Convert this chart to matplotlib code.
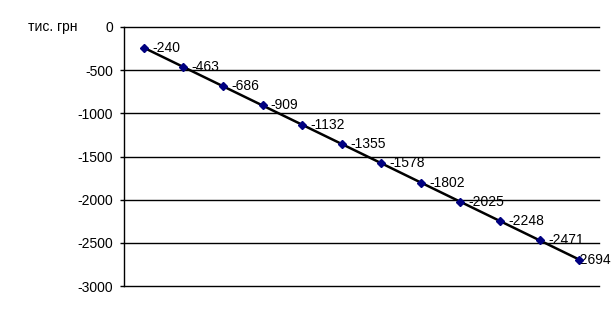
import matplotlib
matplotlib.use("Agg")
import matplotlib.pyplot as plt

plt.rcParams['font.family'] = ['Liberation Sans', 'DejaVu Sans']

categories = list(range(1, 13))
values = [-240, -463, -686, -909, -1132, -1355, -1578, -1802, -2025, -2248, -2471, -2694]
yticks = [0, -500, -1000, -1500, -2000, -2500, -3000]
ylabel = "тис. грн"

fig = plt.figure(figsize=(6.16, 3.13), dpi=100)
ax = fig.add_axes([124/616, 1-286/313, 475/616, 259/313])

ax.plot(categories, values, color='black', lw=1.8, zorder=3)
ax.plot(categories, values, ls='none', marker='D', ms=4.5, color='#000080', zorder=5)

for i, (x, v) in enumerate(zip(categories, values)):
    if i == len(values) - 1:
        ax.annotate(f"{v}", (x, v), xytext=(-2.8, 0), textcoords='offset points',
                    ha='left', va='center', fontsize=10, zorder=4)
    else:
        ax.annotate(f"{v}", (x, v), xytext=(6, 0), textcoords='offset points',
                    ha='left', va='center', fontsize=10, zorder=4)

ax.set_xlim(0.5, 12.5)
ax.set_ylim(-3000, 0)
ax.set_yticks(yticks)
ax.set_yticklabels([str(t) for t in yticks], fontsize=10)
ax.yaxis.grid(True, color='black', lw=1.0)
for gl in ax.get_ygridlines():
    gl.set_clip_on(False)
ax.set_axisbelow(True)
ax.set_xticks([])
for s in ['top', 'right', 'bottom']:
    ax.spines[s].set_visible(False)
ax.spines['left'].set_color('black')
ax.spines['left'].set_linewidth(1.0)
ax.tick_params(axis='y', length=3, width=1, color='black', pad=5)

fig.text(28/616, 1-27/313, ylabel, fontsize=10, ha='left', va='center')

fig.savefig("out.png", dpi=100)
